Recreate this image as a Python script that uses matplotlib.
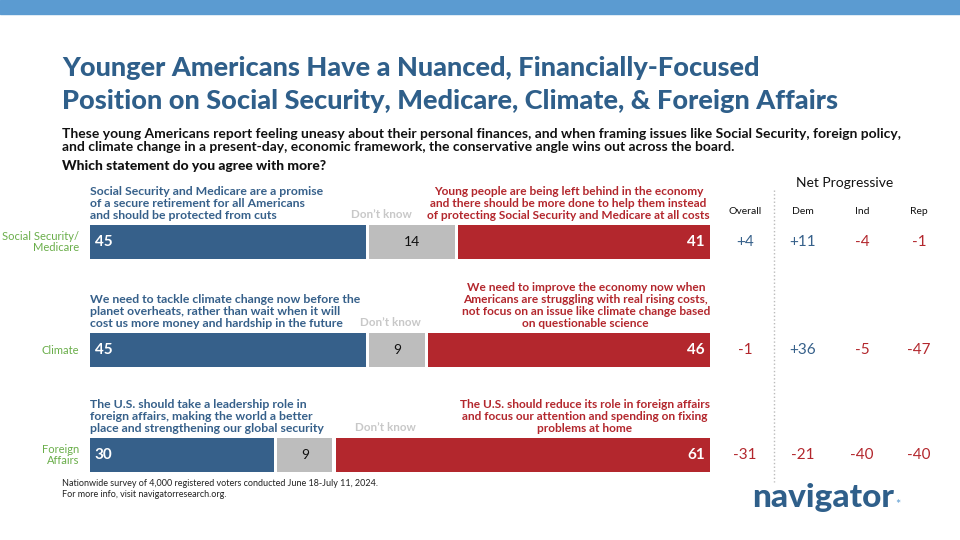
import matplotlib
matplotlib.use("Agg")
import matplotlib.pyplot as plt
from matplotlib.patches import Rectangle

plt.rcParams['font.family'] = ['Lato', 'DejaVu Sans']

categories = ["Social Security/\nMedicare", "Climate", "Foreign\nAffairs"]
progressive = [45, 45, 30]
dont_know = [14, 9, 9]
conservative = [41, 46, 61]
net_cols = ["Overall", "Dem", "Ind", "Rep"]
net_vals = [["+4", "+11", "-4", "-1"],
            ["-1", "+36", "-5", "-47"],
            ["-31", "-21", "-40", "-40"]]
left_stmts = ["Social Security and Medicare are a promise\nof a secure retirement for all Americans\nand should be protected from cuts",
              "We need to tackle climate change now before the\nplanet overheats, rather than wait when it will\ncost us more money and hardship in the future",
              "The U.S. should take a leadership role in\nforeign affairs, making the world a better\nplace and strengthening our global security"]
right_stmts = ["Young people are being left behind in the economy\nand there should be more done to help them instead\nof protecting Social Security and Medicare at all costs",
               "We need to improve the economy now when\nAmericans are struggling with real rising costs,\nnot focus on an issue like climate change based\non questionable science",
               "The U.S. should reduce its role in foreign affairs\nand focus our attention and spending on fixing\nproblems at home"]

BLUE = "#36608a"; RED = "#b3272d"; GRAY = "#bdbdbd"; GREEN = "#6aae4a"; TITLE = "#2f5f8a"

fig = plt.figure(figsize=(9.6, 5.4), dpi=100)
bg = fig.add_axes([0, 0, 1, 1]); bg.set_xlim(0, 960); bg.set_ylim(540, 0); bg.axis("off")
bg.add_patch(Rectangle((0, 0), 960, 14, color="#5b9bd1"))
bg.text(62, 68, "Younger Americans Have a Nuanced, Financially-Focused", fontsize=19.5, weight=900, color=TITLE, va="center")
bg.text(62, 101, "Position on Social Security, Medicare, Climate, & Foreign Affairs", fontsize=19.5, weight=900, color=TITLE, va="center")
bg.text(62, 128, "These young Americans report feeling uneasy about their personal finances, and when framing issues like Social Security, foreign policy,\nand climate change in a present-day, economic framework, the conservative angle wins out across the board.",
        fontsize=10, weight="bold", color="#111111", va="top", linespacing=1.1)
bg.text(62, 166, "Which statement do you agree with more?", fontsize=10, weight=900, color="#111111", va="center")
bg.text(62, 489, "Nationwide survey of 4,000 registered voters conducted June 18-July 11, 2024.\nFor more info, visit navigatorresearch.org.", fontsize=6.5, color="#222222", va="center", linespacing=1.3)
bg.text(823, 498, "navigator", fontsize=24, weight=900, color=TITLE, ha="center", va="center")
bg.text(898, 505, "*", fontsize=9, color="#5b9bd1", ha="center", va="center")
bg.text(845, 183, "Net Progressive", fontsize=10, color="#111111", ha="center", va="center")
bg.plot([774, 774], [190, 482], ls=":", color="#bbbbbb", lw=1)

ycent = [242, 350, 455]
dk_x = [381, 390, 385]
H = 34
ax = fig.add_axes([90/960, 0, 620/960, 1])
ax.set_ylim(540, 0); ax.set_xlim(0, 100 + 1.0); ax.axis("off")
gap = 0.5
for i, y in enumerate(ycent):
    p, d, c = progressive[i], dont_know[i], conservative[i]
    ax.barh(y, p, left=0, height=H, color=BLUE)
    ax.barh(y, d, left=p + gap, height=H, color=GRAY)
    ax.barh(y, c, left=p + d + 2 * gap, height=H, color=RED)
    ax.text(0.8, y, str(p), color="white", fontsize=11, weight="bold", va="center")
    ax.text(p + gap + d / 2, y, str(d), color="#111111", fontsize=10, va="center", ha="center")
    ax.text(p + d + 2 * gap + c - 0.8, y, str(c), color="white", fontsize=11, weight="bold", va="center", ha="right")
    ax.text(0, y - H / 2 - 4, left_stmts[i], color=BLUE, fontsize=8.8, weight="bold", va="bottom", linespacing=1.1)
    ax.text(p + d + 2 * gap + c, y - H / 2 - 4, right_stmts[i], color=RED, fontsize=8.6, weight="bold", va="bottom", ha="right", multialignment="center", linespacing=1.1)
    bg.text(dk_x[i], y - H / 2 - 5, "Don\u2019t know", color="#c8c8c8", fontsize=8.4, weight="bold", va="bottom", ha="center")
    bg.text(79, y, categories[i], color=GREEN, fontsize=8, ha="right", va="center", multialignment="right", linespacing=1.1)
    for j, v in enumerate(net_vals[i]):
        bg.text([745, 803, 862, 919][j], y, v, color=BLUE if v.startswith("+") else RED, fontsize=11, ha="center", va="center")

for j, name in enumerate(net_cols):
    bg.text([745, 803, 862, 919][j], 211, name, color="#111111", fontsize=7.5, ha="center", va="center")

fig.savefig("out.png", dpi=100)
